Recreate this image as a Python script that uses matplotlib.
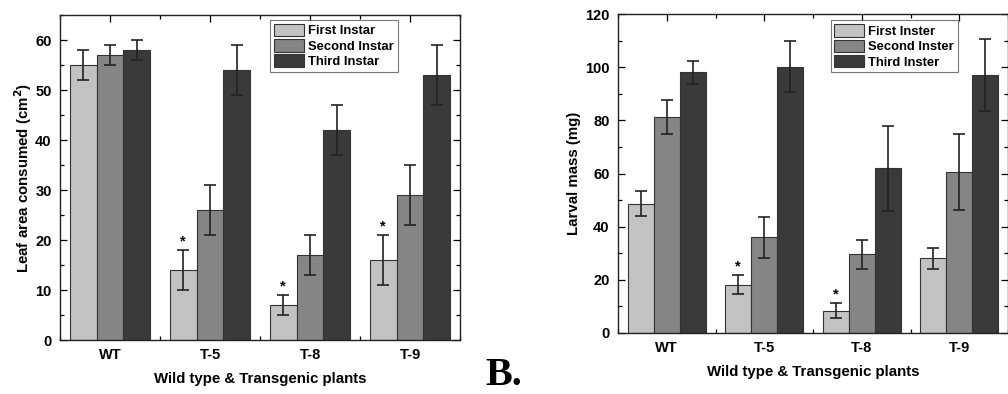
import numpy as np
import matplotlib.pyplot as plt
from matplotlib.ticker import MultipleLocator

plt.rcParams['font.family'] = ['Liberation Sans', 'DejaVu Sans']
plt.rcParams['font.weight'] = 'bold'

grupos = ['WT', 'T-5', 'T-8', 'T-9']

# painel A - area foliar consumida (cm2)
folha_media = [
    [55, 14, 7, 16],
    [57, 26, 17, 29],
    [58, 54, 42, 53],
]
folha_erro = [
    [3, 4, 2, 5],
    [2, 5, 4, 6],
    [2, 5, 5, 6],
]
folha_estrela = [[1, 2, 3], [], []]
folha_rotulos = ['First Instar', 'Second Instar', 'Third Instar']

# painel B - massa larval (mg)
massa_media = [
    [48.7, 18.2, 8.4, 28.1],
    [81.2, 36.0, 29.6, 60.5],
    [98.1, 100.2, 62.0, 97.1],
]
massa_erro = [
    [4.7, 3.6, 2.9, 4.0],
    [6.5, 7.6, 5.5, 14.3],
    [4.4, 9.7, 16.0, 13.6],
]
massa_estrela = [[1, 2], [], []]
massa_rotulos = ['First Inster', 'Second Inster', 'Third Inster']

cores = ['#c2c2c2', '#858585', '#3a3a3a']
largura = 0.267


def desenhar(ax, medias, erros, estrelas, rotulos, ylabel, ymax, passo,
             leg_pos, ypad):
    x = np.arange(1, len(grupos) + 1)
    for k in range(3):
        pos = x + (k - 1) * largura
        ax.bar(pos, medias[k], largura, color=cores[k], edgecolor='#333333',
               linewidth=0.8, label=rotulos[k], zorder=2)
        ax.errorbar(pos, medias[k], yerr=erros[k], fmt='none', ecolor='#222222',
                    elinewidth=1.2, capsize=4, capthick=1.2, zorder=3)
        for i in estrelas[k]:
            ax.text(pos[i], medias[k][i] + erros[k][i] + ymax * 0.005, '*',
                    ha='center', va='bottom', fontsize=10.5, fontweight='bold')
    ax.set_xlim(0.5, len(grupos) + 0.5)
    ax.set_ylim(0, ymax)
    ax.set_xticks(x)
    ax.set_xticklabels(grupos)
    ax.xaxis.set_minor_locator(MultipleLocator(0.5))
    ax.yaxis.set_major_locator(MultipleLocator(passo))
    ax.yaxis.set_minor_locator(MultipleLocator(passo / 2))
    ax.tick_params(which='both', direction='in', top=True, right=True,
                   labelsize=10.5, width=0.9)
    ax.tick_params(which='major', length=5, pad=6)
    ax.tick_params(which='minor', length=3)
    for s in ax.spines.values():
        s.set_linewidth(1.0)
        s.set_color('#222222')
    ax.set_xlabel('Wild type & Transgenic plants', fontsize=10.8,
                  fontweight='bold', labelpad=7)
    ax.set_ylabel(ylabel, fontsize=10.8, fontweight='bold', labelpad=ypad)
    leg = ax.legend(loc='upper left', bbox_to_anchor=leg_pos, fontsize=9.4,
                    frameon=True, fancybox=False, edgecolor='#555555',
                    handlelength=2.3, handleheight=1.1, labelspacing=0.12,
                    borderpad=0.3, handletextpad=0.3, borderaxespad=0)
    leg.get_frame().set_linewidth(0.8)


fig = plt.figure(figsize=(10.08, 3.94), dpi=100)
ax1 = fig.add_axes([60 / 1008, 54 / 394, 400 / 1008, 325 / 394])
ax2 = fig.add_axes([618 / 1008, 61 / 394, 390 / 1008, 319 / 394])

desenhar(ax1, folha_media, folha_erro, folha_estrela, folha_rotulos,
         'Leaf area consumed (cm$^\\mathbf{2}$)', 65, 10, (0.525, 0.985), 1)
desenhar(ax2, massa_media, massa_erro, massa_estrela, massa_rotulos,
         'Larval mass (mg)', 120, 20, (0.545, 0.98), 3)

fig.text(485 / 1008, 9 / 394, 'B.', family='Liberation Serif',
         fontsize=29, fontweight='bold', ha='left', va='baseline')

fig.savefig('out.png', dpi=100)
